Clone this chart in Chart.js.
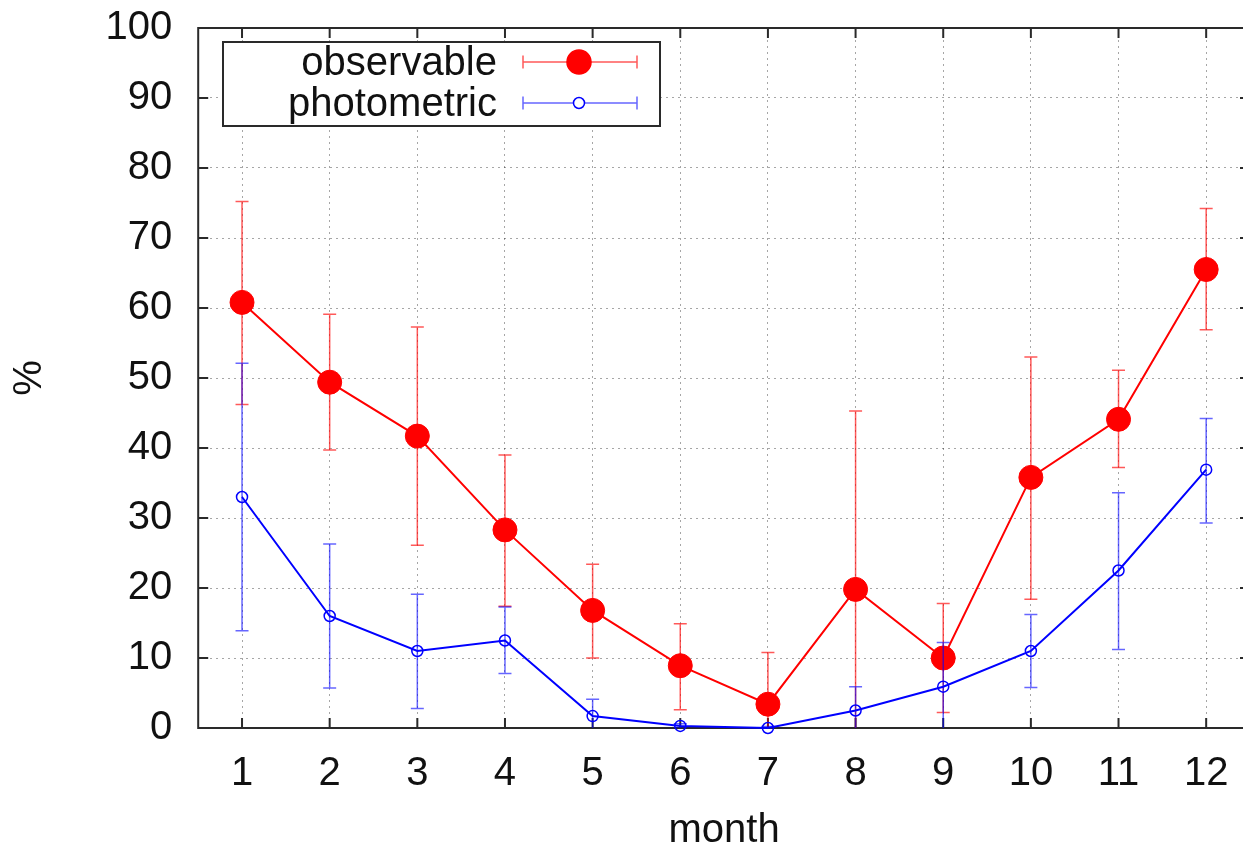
<!DOCTYPE html>
<html>
<head>
<meta charset="utf-8">
<script src="https://cdn.jsdelivr.net/npm/chart.js@4"></script>
<style>
  html, body { margin: 0; padding: 0; background: #fff; overflow: hidden; }
  canvas { display: block; }
</style>
</head>
<body>
<canvas id="chart" width="1263" height="848"></canvas>
<script>
// data
const months = [1, 2, 3, 4, 5, 6, 7, 8, 9, 10, 11, 12];
const yTicks = [0, 10, 20, 30, 40, 50, 60, 70, 80, 90, 100];

const obsValues = [60.8, 49.4, 41.7, 28.3, 16.8, 8.9, 3.4, 19.8, 10.0, 35.8, 44.1, 65.5];
const obsLow = [46.2, 39.7, 26.1, 17.4, 10.0, 2.6, -4.0, -6.0, 2.2, 18.4, 37.2, 56.9];
const obsHigh = [75.2, 59.1, 57.3, 39.0, 23.4, 14.9, 10.8, 45.3, 17.8, 53.0, 51.1, 74.2];

const photValues = [33.0, 16.0, 11.0, 12.5, 1.7, 0.3, 0.0, 2.5, 5.9, 11.0, 22.5, 36.9];
const photLow = [13.9, 5.7, 2.8, 7.8, -0.5, 0.0, 0.0, -2.0, -1.0, 5.8, 11.2, 29.3];
const photHigh = [52.1, 26.3, 19.1, 17.3, 4.1, 0.6, 0.2, 5.9, 12.2, 16.2, 33.6, 44.2];

const labels = ['observable', 'photometric'];

const FONT = 'Liberation Sans, Arial, Helvetica, sans-serif';
const red = 'rgb(255,0,0)';
const blue = 'rgb(0,0,255)';
const redBar = 'rgba(255,0,0,0.65)';
const blueBar = 'rgba(0,0,255,0.6)';

// error bars per dataset index
const errors = [
    { low: obsLow, high: obsHigh, color: redBar },
    { low: photLow, high: photHigh, color: blueBar }
];

const drawBar = (ctx, px, p1, p2, cap) => {
    ctx.beginPath();
    ctx.moveTo(px, p1); ctx.lineTo(px, p2);
    ctx.moveTo(px - cap, p1); ctx.lineTo(px + cap, p1);
    ctx.moveTo(px - cap, p2); ctx.lineTo(px + cap, p2);
    ctx.stroke();
}

// draw each dataset's error bars just before its line so layering matches
const errorBars = {
    id: 'errorBars',
    beforeDatasetDraw(chart, args) {
        const err = errors[args.index];
        const { ctx, chartArea: a } = chart;
        const x = chart.scales.x, y = chart.scales.y;
        ctx.save();
        ctx.beginPath();
        ctx.rect(a.left, a.top, a.right - a.left, a.bottom - a.top);
        ctx.clip();
        ctx.strokeStyle = err.color;
        ctx.lineWidth = 1.5;
        months.forEach((m, i) => {
            drawBar(ctx, x.getPixelForValue(m), y.getPixelForValue(err.low[i]), y.getPixelForValue(err.high[i]), 6.5);
        });
        ctx.restore();
    }
};

// gnuplot style frame with inward ticks on all sides
const frame = {
    id: 'frame',
    beforeDatasetsDraw(chart) {
        const { ctx, chartArea: a } = chart;
        const x = chart.scales.x, y = chart.scales.y;
        ctx.save();
        ctx.strokeStyle = '#2a2a2a';
        ctx.lineWidth = 2;
        ctx.strokeRect(a.left, a.top, a.right - a.left, a.bottom - a.top);
        ctx.beginPath();
        months.forEach(m => {
            const px = x.getPixelForValue(m);
            ctx.moveTo(px, a.bottom); ctx.lineTo(px, a.bottom - 10);
            ctx.moveTo(px, a.top); ctx.lineTo(px, a.top + 10);
        });
        yTicks.forEach(v => {
            const py = y.getPixelForValue(v);
            ctx.moveTo(a.left, py); ctx.lineTo(a.left + 10, py);
            ctx.moveTo(a.right, py); ctx.lineTo(a.right - 10, py);
        });
        ctx.stroke();
        ctx.restore();
    }
};

// key box with error bar samples
const keyBox = {
    id: 'keyBox',
    afterDatasetsDraw(chart) {
        const ctx = chart.ctx;
        ctx.save();
        ctx.fillStyle = '#fff';
        ctx.fillRect(223, 42, 437, 84);
        ctx.strokeStyle = '#2a2a2a';
        ctx.lineWidth = 2;
        ctx.strokeRect(223, 42, 437, 84);
        ctx.font = '40px ' + FONT;
        ctx.textAlign = 'right';
        ctx.textBaseline = 'middle';
        const rows = [62, 103];
        const styles = [
            { line: redBar, fill: red, stroke: red, r: 12 },
            { line: blueBar, fill: '#fff', stroke: blue, r: 5.5 }
        ];
        labels.forEach((txt, i) => {
            const ry = rows[i];
            ctx.fillStyle = '#111';
            ctx.fillText(txt, 497, ry + 2);
            ctx.strokeStyle = styles[i].line;
            ctx.lineWidth = 1.5;
            ctx.beginPath();
            ctx.moveTo(523, ry); ctx.lineTo(637, ry);
            ctx.moveTo(523, ry - 6.5); ctx.lineTo(523, ry + 6.5);
            ctx.moveTo(637, ry - 6.5); ctx.lineTo(637, ry + 6.5);
            ctx.stroke();
            ctx.beginPath();
            ctx.arc(579, ry, styles[i].r, 0, Math.PI * 2);
            ctx.fillStyle = styles[i].fill;
            ctx.fill();
            ctx.strokeStyle = styles[i].stroke;
            ctx.lineWidth = 1.5;
            ctx.stroke();
        });
        ctx.restore();
    }
};

const chart = new Chart(document.querySelector('#chart'), {
    type: 'line',
    data: {
        datasets: [{
            label: labels[0],
            data: months.map((m, i) => ({ x: m, y: obsValues[i] })),
            borderColor: red,
            backgroundColor: red,
            borderWidth: 2,
            pointRadius: 12,
            pointBackgroundColor: red,
            pointBorderColor: red,
            pointBorderWidth: 1,
            order: 1
        }, {
            label: labels[1],
            data: months.map((m, i) => ({ x: m, y: photValues[i] })),
            borderColor: blue,
            backgroundColor: '#fff',
            borderWidth: 2,
            pointRadius: 5.5,
            pointBackgroundColor: 'rgba(255,255,255,0)',
            pointBorderColor: blue,
            pointBorderWidth: 1.5,
            clip: false,
            order: 0
        }]
    },
    options: {
        responsive: false,
        animation: false,
        layout: { padding: { top: 28, right: 0, left: 0, bottom: 0 } },
        plugins: {
            legend: { display: false },
            tooltip: { enabled: false }
        },
        scales: {
            x: {
                type: 'linear',
                min: 0.5,
                max: 12.5,
                afterBuildTicks: (scale) => { scale.ticks = months.map(v => ({ value: v })); },
                afterFit: (scale) => {
                    scale.height = 120;
                    scale.paddingLeft = 0;
                    scale.paddingRight = 0;
                },
                border: { display: false, dash: [2, 4] },
                grid: { color: 'rgba(0,0,0,0.35)', lineWidth: 1, drawTicks: false },
                ticks: {
                    padding: 22,
                    color: '#111',
                    maxRotation: 0,
                    font: { family: FONT, size: 40 }
                },
                title: {
                    display: true,
                    text: 'month',
                    color: '#111',
                    padding: { top: 0, bottom: 0 },
                    font: { family: FONT, size: 40, lineHeight: 0.85 }
                }
            },
            y: {
                min: 0,
                max: 100,
                afterBuildTicks: (scale) => { scale.ticks = yTicks.map(v => ({ value: v })); },
                afterFit: (scale) => {
                    scale.width = 198.2;
                    scale.paddingTop = 0;
                    scale.paddingBottom = 0;
                },
                border: { display: false, dash: [2, 4] },
                grid: { color: 'rgba(0,0,0,0.35)', lineWidth: 1, drawTicks: false },
                ticks: {
                    padding: 26,
                    color: '#111',
                    font: { family: FONT, size: 40 }
                },
                title: {
                    display: true,
                    text: '%',
                    color: '#111',
                    padding: { top: 10, bottom: 0 },
                    font: { family: FONT, size: 40, lineHeight: 1 }
                }
            }
        }
    },
    plugins: [errorBars, frame, keyBox]
});
</script>
</body>
</html>
